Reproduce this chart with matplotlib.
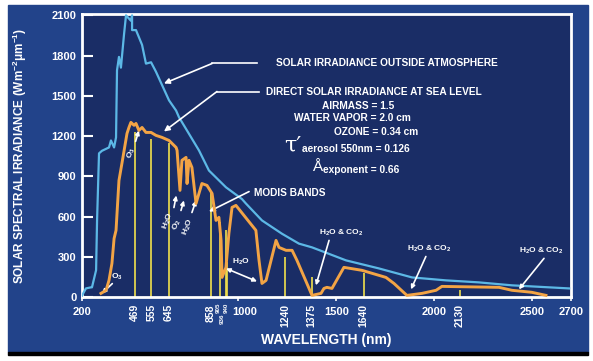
import matplotlib
matplotlib.use("Agg")
import matplotlib.pyplot as plt
import matplotlib.transforms as mtransforms
from matplotlib.patches import Rectangle

plt.rcParams['font.family'] = ['Liberation Sans', 'DejaVu Sans']
plt.rcParams['font.weight'] = 'bold'
plt.rcParams['mathtext.fontset'] = 'custom'
plt.rcParams['mathtext.rm'] = 'Liberation Sans:bold'
plt.rcParams['mathtext.it'] = 'Liberation Sans:bold'
plt.rcParams['mathtext.bf'] = 'Liberation Sans:bold'

# solar irradiance outside atmosphere (nm, W m-2 um-1)
top_nm = [200, 220, 246, 251, 272, 277, 287, 302, 338, 348, 364, 374, 379, 389, 399,
          415, 425, 450, 456, 456, 476, 507, 527, 553, 578, 645, 681, 696, 798, 849,
          936, 1018, 1038, 1120, 1222, 1309, 1376, 1550, 1718, 1887, 2061, 2229,
          2398, 2690]
top_val = [10, 64, 72, 72, 200, 570, 1071, 1090, 1115, 1167, 1115, 1190, 1690, 1790, 1710,
           1960, 2100, 2060, 2100, 1990, 1990, 1880, 1740, 1750, 1680, 1466, 1390, 1340,
           1093, 943, 818, 730, 697, 571, 472, 398, 370, 273, 213, 146, 124, 109, 87, 64]

# direct solar irradiance at sea level
sea_nm = [297, 323, 338, 353, 364, 374, 379, 389, 404, 430, 440, 450, 466, 476, 491,
          507, 527, 553, 578, 609, 645, 681, 686, 701, 711, 732, 737, 747, 762, 783,
          798, 813, 839, 865, 885, 900, 911, 916, 936, 951, 967, 987, 1089, 1105,
          1120, 1141, 1192, 1207, 1243, 1274, 1299, 1376, 1422, 1437, 1452, 1478,
          1539, 1631, 1754, 1795, 1861, 1938, 2010, 2040, 2332, 2398, 2500, 2572]
sea_val = [27, 50, 124, 250, 436, 497, 622, 869, 995, 1219, 1264, 1302, 1280, 1294, 1242,
           1264, 1227, 1227, 1205, 1190, 1167, 1115, 1093, 795, 1019, 1041, 846, 1019, 966,
           697, 772, 846, 832, 772, 571, 594, 422, 146, 221, 474, 668, 683, 497, 273,
           101, 124, 422, 370, 348, 348, 273, 12, 27, 64, 72, 64,
           221, 199, 146, 101, 12, 27, 50, 79, 72, 50, 35, 12]

# MODIS band centres and drawn heights
bands = [469, 555, 645, 858, 905, 936, 940, 1240, 1375, 1640, 2130]
band_top = [1230, 1180, 1150, 780, 560, 500, 260, 300, 146, 177, 50]
band_labels = ['469', '555', '645', '858', '', '', '', '1240', '1375', '1640', '2130']

xticks = [200, 1000, 1500, 2000, 2500, 2700]
yticks = [0, 300, 600, 900, 1200, 1500, 1800, 2100]

W, H = 593, 361
fig = plt.figure(figsize=(W / 100, H / 100), dpi=100, facecolor='white')
fig.add_artist(Rectangle((8 / W, (H - 352) / H), 580 / W, 347 / H,
                         transform=fig.transFigure, color='#22438a', zorder=-5))
fig.add_artist(Rectangle((8 / W, (H - 355) / H), 580 / W, 3 / H,
                         transform=fig.transFigure, color='black', zorder=-5))

ax = fig.add_axes([82 / W, (H - 297) / H, 489 / W, 283 / H])
ax.set_zorder(1)
ax.set_facecolor('#1a2d66')
ax.set_xlim(200, 2700)
ax.set_ylim(0, 2110)
for s in ax.spines.values():
    s.set_color('white')
    s.set_linewidth(2)

ax.vlines(bands, 0, band_top, color='#f2e04c', lw=1.2, zorder=2)
ax.plot(top_nm, top_val, color='#5cb8e6', lw=1.6, zorder=3)
ax.plot(sea_nm, sea_val, color='#f3a445', lw=2.1, zorder=4)

ax.set_xticks(xticks)
ax.set_yticks(yticks)
ax.tick_params(axis='y', direction='in', length=8, width=1.5, color='white',
               labelcolor='white', labelsize=8, pad=4)
ax.tick_params(axis='x', direction='out', length=3, width=1.2, color='white',
               labelcolor='white', labelsize=8, pad=4)
# the 1000 label sits a little right of its tick in the original
lbl = ax.get_xticklabels()[1]
lbl.set_transform(lbl.get_transform() +
                  mtransforms.ScaledTranslation(6 / 100, 0, fig.dpi_scale_trans))
ax.set_xlabel('WAVELENGTH (nm)', color='white', fontsize=10, fontweight='bold', labelpad=12)
ax.set_ylabel('SOLAR SPECTRAL IRRADIANCE (Wm$^{-2}\\mu$m$^{-1}$)', color='white',
              fontsize=8.5, fontweight='bold', labelpad=16)

xt = ax.get_xaxis_transform()
for b, lab in zip(bands, band_labels):
    if lab:
        ax.text(b, -0.025, lab, transform=xt, rotation=90, ha='center', va='top',
                color='white', fontsize=7.5, clip_on=False)
ax.text(897, -0.02, '905', transform=xt, rotation=90, ha='center', va='top',
        color='white', fontsize=4.5, clip_on=False)
ax.text(918, -0.06, '936', transform=xt, rotation=90, ha='center', va='top',
        color='white', fontsize=4.5, clip_on=False)
ax.text(940, -0.02, '940', transform=xt, rotation=90, ha='center', va='top',
        color='white', fontsize=4.5, clip_on=False)

arrow = dict(arrowstyle='-|>', color='white', lw=1.2, mutation_scale=8,
             shrinkA=0, shrinkB=0)
tkw = dict(color='white', fontsize=7.3, fontweight='bold')

# outside atmosphere label
ax.text(1192, 1741, 'SOLAR IRRADIANCE OUTSIDE ATMOSPHERE', ha='left', va='center', **tkw)
ax.plot([1095, 865], [1741, 1741], color='white', lw=1.2)
ax.annotate('', xy=(619, 1592), xytext=(865, 1741), arrowprops=arrow)

# sea level label block
ax.text(1141, 1525, 'DIRECT SOLAR IRRADIANCE AT SEA LEVEL', ha='left', va='center', **tkw)
ax.plot([1105, 890], [1532, 1532], color='white', lw=1.2)
ax.annotate('', xy=(619, 1234), xytext=(890, 1532), arrowprops=arrow)
ax.text(1427, 1421, 'AIRMASS = 1.5', ha='left', va='center', **tkw)
ax.text(1284, 1331, 'WATER VAPOR = 2.0 cm', ha='left', va='center', **tkw)
ax.text(1488, 1227, 'OZONE = 0.34 cm', ha='left', va='center', **tkw)
ax.text(1233, 1125, '\u03c4\u2032', ha='left', va='center', color='white', fontsize=16,
        family='DejaVu Serif', fontweight='normal')
ax.text(1325, 1100, 'aerosol 550nm = 0.126', ha='left', va='center', **tkw)
ax.text(1376, 972, '\u00c5', ha='left', va='center', color='white', fontsize=11,
        fontweight='normal')
ax.text(1432, 944, 'exponent = 0.66', ha='left', va='center', **tkw)

# MODIS bands
ax.text(1079, 772, 'MODIS BANDS', ha='left', va='center', **tkw)
ax.annotate('', xy=(849, 637), xytext=(1054, 786), arrowprops=arrow)

# absorption labels
skw = dict(color='white', fontsize=6, fontweight='bold', ha='center', va='center')
ax.text(452, 1070, 'O$_3$', rotation=75, **skw)
ax.annotate('', xy=(491, 1242), xytext=(474, 1160), arrowprops=dict(arrow, mutation_scale=6))
ax.text(378, 150, 'O$_3$', **skw)
ax.annotate('', xy=(302, 27), xytext=(355, 100), arrowprops=dict(arrow, mutation_scale=6))
for (tx, ty, lab), (x0, y0, x1, y1) in zip(
        [(640, 570, 'H$_2$O'), (686, 540, 'O$_2$'), (745, 520, 'H$_2$O')],
        [(670, 667, 682, 757), (706, 645, 721, 720), (762, 630, 783, 720)]):
    ax.text(tx, ty, lab, rotation=70, **skw)
    ax.annotate('', xy=(x1, y1), xytext=(x0, y0), arrowprops=dict(arrow, mutation_scale=6))
ax.text(1013, 258, 'H$_2$O', **skw)
ax.annotate('', xy=(1095, 116), xytext=(936, 213),
            arrowprops=dict(arrowstyle='<|-|>', color='white', lw=1.2, mutation_scale=6,
                            shrinkA=0, shrinkB=0))
for (tx, ty), (x0, y0, x1, y1) in zip(
        [(1524, 481), (1974, 362), (2546, 340)],
        [(1463, 422, 1396, 87), (1958, 302, 1882, 57), (2562, 288, 2434, 57)]):
    ax.text(tx, ty, 'H$_2$O & CO$_2$', **skw)
    ax.annotate('', xy=(x1, y1), xytext=(x0, y0), arrowprops=dict(arrow, mutation_scale=6))

fig.savefig('out.png', dpi=100, facecolor='white')
